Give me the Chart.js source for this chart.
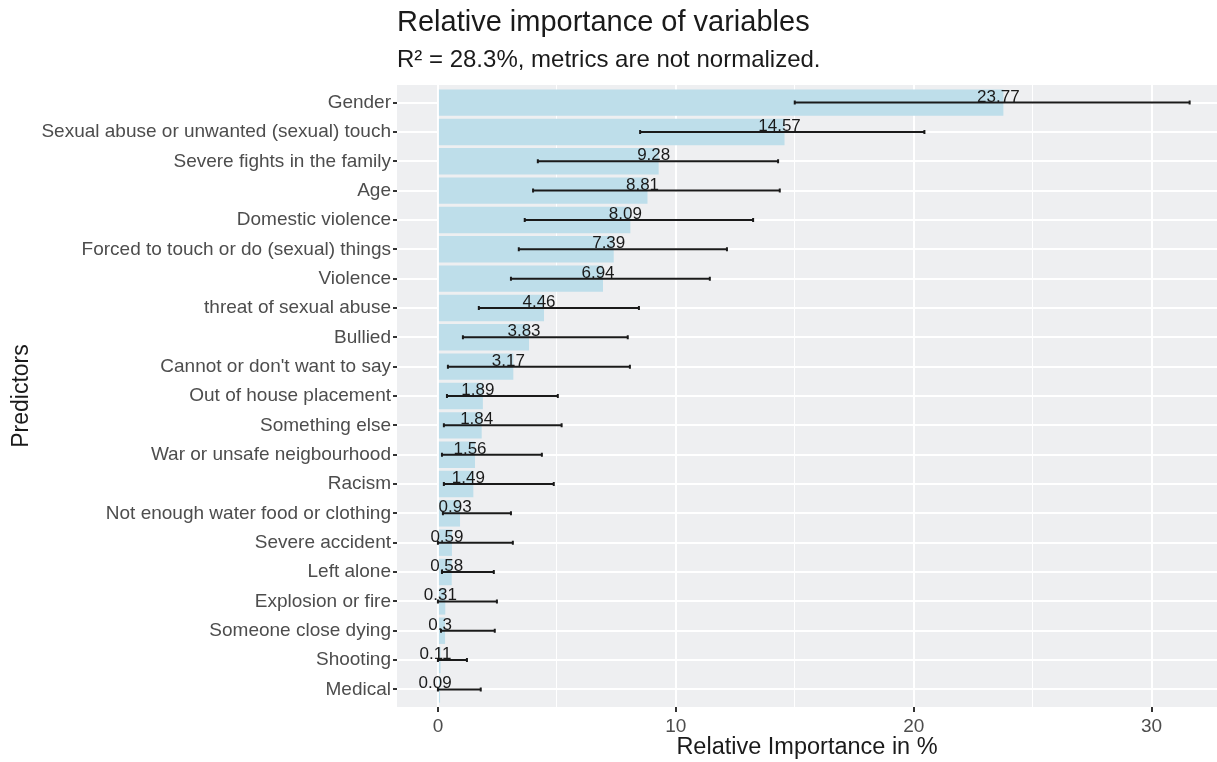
<!DOCTYPE html>
<html>
<head>
<meta charset="utf-8">
<title>Relative importance of variables</title>
<script src="https://cdn.jsdelivr.net/npm/chart.js@4.4.1/dist/chart.umd.min.js"></script>
<style>
  html, body { margin: 0; padding: 0; background: #ffffff; }
  #wrap { width: 1217px; height: 762px; }
</style>
</head>
<body>
<div id="wrap"><canvas id="importanceChart" width="1217" height="762"></canvas></div>
<script>
// predictors, top to bottom
const predictors = [
  'Gender',
  'Sexual abuse or unwanted (sexual) touch',
  'Severe fights in the family',
  'Age',
  'Domestic violence',
  'Forced to touch or do (sexual) things',
  'Violence',
  'threat of sexual abuse',
  'Bullied',
  "Cannot or don't want to say",
  'Out of house placement',
  'Something else',
  'War or unsafe neigbourhood',
  'Racism',
  'Not enough water food or clothing',
  'Severe accident',
  'Left alone',
  'Explosion or fire',
  'Someone close dying',
  'Shooting',
  'Medical'
];

// relative importance in % and bootstrap interval bounds
const importance = [23.77, 14.57, 9.28, 8.81, 8.09, 7.39, 6.94, 4.46, 3.83, 3.17, 1.89, 1.84, 1.56, 1.49, 0.93, 0.59, 0.58, 0.31, 0.3, 0.11, 0.09];
const ciLower = [15.0, 8.5, 4.2, 4.0, 3.65, 3.4, 3.07, 1.72, 1.05, 0.42, 0.38, 0.25, 0.17, 0.25, 0.21, 0.0, 0.17, 0.0, 0.13, 0.0, 0.0];
const ciUpper = [31.6, 20.45, 14.3, 14.37, 13.25, 12.15, 11.43, 8.45, 7.98, 8.07, 5.04, 5.2, 4.37, 4.87, 3.07, 3.15, 2.35, 2.48, 2.39, 1.22, 1.8];

const xTicks = [0, 5, 10, 15, 20, 25, 30];

const FONT = "'Liberation Sans', Arial, Helvetica, sans-serif";
Chart.defaults.font.family = FONT;

// grey panel behind the bars
const panelBackground = {
  id: 'panelBackground',
  beforeDraw(chart) {
    const { ctx, chartArea: a } = chart;
    ctx.save();
    ctx.fillStyle = '#EEEFF1';
    ctx.fillRect(a.left, a.top, a.right - a.left, a.bottom - a.top);
    ctx.restore();
  }
};

// interval lines and value labels
const errorBars = {
  id: 'errorBars',
  afterDatasetsDraw(chart) {
    const { ctx } = chart;
    const xs = chart.scales.x, ys = chart.scales.y;
    ctx.save();
    ctx.strokeStyle = '#1A1A1A';
    ctx.lineWidth = 2;
    predictors.forEach((p, i) => {
      const y = ys.getPixelForValue(i);
      const x1 = xs.getPixelForValue(ciLower[i]);
      const x2 = xs.getPixelForValue(ciUpper[i]);
      ctx.beginPath();
      ctx.moveTo(x1, y);
      ctx.lineTo(x2, y);
      ctx.moveTo(x1, y - 2);
      ctx.lineTo(x1, y + 2);
      ctx.moveTo(x2, y - 2);
      ctx.lineTo(x2, y + 2);
      ctx.stroke();
    });
    ctx.fillStyle = '#1A1A1A';
    ctx.font = '17px ' + FONT;
    ctx.textAlign = 'center';
    ctx.textBaseline = 'alphabetic';
    importance.forEach((v, i) => {
      const y = ys.getPixelForValue(i);
      ctx.fillText(String(v), xs.getPixelForValue(v) - 5, y - 1);
    });
    ctx.restore();
  }
};

new Chart(document.getElementById('importanceChart'), {
  type: 'bar',
  data: {
    datasets: [{
      data: importance.map((v, i) => ({ x: v, y: i })),
      backgroundColor: '#BEDEEA',
      borderWidth: 0,
      barPercentage: 0.9,
      categoryPercentage: 1.0
    }]
  },
  options: {
    indexAxis: 'y',
    responsive: false,
    animation: false,
    layout: { padding: 0 },
    scales: {
      x: {
        type: 'linear',
        min: -1.72,
        max: 32.75,
        afterBuildTicks(axis) {
          axis.ticks = xTicks.map(v => ({ value: v }));
        },
        afterFit(axis) {
          axis.height = 55;
        },
        border: { display: false },
        grid: {
          color: '#FFFFFF',
          lineWidth: c => (c.tick && c.tick.value % 10 === 0 ? 2 : 1),
          tickColor: c => (c.tick && c.tick.value % 10 === 0 ? '#333333' : 'rgba(0,0,0,0)'),
          tickWidth: 2,
          tickLength: 5
        },
        ticks: {
          color: '#4D4D4D',
          font: { size: 19 },
          padding: 3,
          maxRotation: 0,
          autoSkip: false,
          callback: v => (v % 10 === 0 ? String(v) : '')
        },
        title: {
          display: true,
          text: 'Relative Importance in %',
          color: '#1A1A1A',
          font: { size: 23.5 },
          padding: { top: 0, bottom: 0 }
        }
      },
      y: {
        type: 'linear',
        reverse: true,
        offset: false,
        min: -0.6,
        max: predictors.length - 0.4,
        afterBuildTicks(axis) {
          axis.ticks = predictors.map((p, i) => ({ value: i }));
        },
        afterFit(axis) {
          axis.width = 397;
        },
        border: { display: false },
        grid: {
          offset: false,
          color: '#FFFFFF',
          lineWidth: 2,
          tickColor: '#333333',
          tickWidth: 2,
          tickLength: 4
        },
        ticks: {
          color: '#4D4D4D',
          font: { size: 19 },
          padding: 2,
          autoSkip: false,
          callback: v => predictors[v]
        },
        title: {
          display: true,
          text: 'Predictors',
          color: '#1A1A1A',
          font: { size: 23 },
          padding: { top: 8, bottom: 0 }
        }
      }
    },
    plugins: {
      legend: { display: false },
      tooltip: { enabled: false },
      title: {
        display: true,
        text: 'Relative importance of variables',
        align: 'start',
        fullSize: false,
        color: '#1A1A1A',
        font: { size: 29, weight: 'normal' },
        padding: { top: 6, bottom: 0 }
      },
      subtitle: {
        display: true,
        text: 'R\u00B2 = 28.3%, metrics are not normalized.',
        align: 'start',
        fullSize: false,
        color: '#1A1A1A',
        font: { size: 24 },
        padding: { top: 5.6, bottom: 9.8 }
      }
    }
  },
  plugins: [panelBackground, errorBars]
});
</script>
</body>
</html>
